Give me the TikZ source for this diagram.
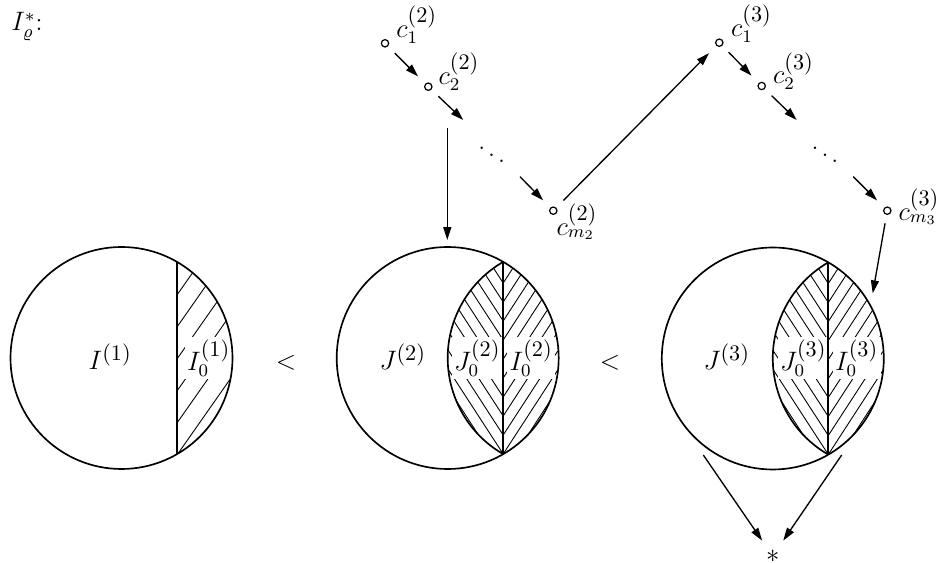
\documentclass[tikz,border=0pt]{standalone}
\usetikzlibrary{arrows.meta,calc}
\newcommand\pw[1]{^{\hbox{\fontsize{9.8}{11}\selectfont$(#1)$}}}
\begin{document}
\begin{tikzpicture}[x=0.45pt,y=-0.45pt,
  every node/.style={font=\fontsize{11.5}{13}\selectfont},
  outline/.style={line width=0.75pt},
  hatch/.style={line width=0.4pt},
  conn/.style={line width=0.6pt,-{Triangle[length=5.8pt,width=3.6pt]}},
  pt/.style={circle,draw,line width=0.55pt,inner sep=0pt,minimum size=3.3pt},
  lbl/.style={anchor=base west,inner sep=0pt},
  reg/.style={anchor=base west,inner sep=1pt,fill=white},
  rel/.style={inner sep=0pt}]
\useasboundingbox (0,0) rectangle (941,563);
\def\R{111}
% ---------- circle 1 ----------
\coordinate (C1) at (121.5,358);
\begin{scope}
  \clip (C1) circle (\R);
  \clip ($(C1)+(55.5,-120)$) rectangle ($(C1)+(125,120)$);
  \foreach \k in {-4,...,10} {
    \draw[hatch] ($(C1)+(55.5,97-32*\k)$) -- ++(57.4,-81.9);
  }
\end{scope}
\node[reg] (L1) at (86,370) {$I\pw{1}$};
\node[reg] (L10) at (184.5,371) {$I_0\pw{1}$};
\draw[outline] (C1) circle (\R);
\draw[outline] ($(C1)+(55.5,-96.1)$) -- ($(C1)+(55.5,96.1)$);
% ---------- circles 2 and 3 ----------
\coordinate (C2) at (447.7,358);
\coordinate (C3) at (772.8,358.5);
\foreach \c in {C2,C3} {
  \begin{scope}
    \clip (\c) circle (\R);
    \clip ($(\c)+(55.5,-120)$) rectangle ($(\c)+(125,120)$);
    \foreach \k in {-8,...,14} {
      \draw[hatch] ($(\c)+(55.5,96-19*\k)$) -- ++(54.5,-83.9);
    }
  \end{scope}
  \begin{scope}
    \clip ($(\c)+(\R,0)$) circle (\R);
    \clip ($(\c)+(-10,-120)$) rectangle ($(\c)+(55.5,120)$);
    \foreach \k in {-8,...,14} {
      \draw[hatch] ($(\c)+(55.5,96-19*\k)$) -- ++(-54.5,-83.9);
    }
  \end{scope}
}
\node[reg] (J2) at (377,370) {$J\pw{2}$};
\node[reg] (J02) at (451.5,371) {$J_0\pw{2}$};
\node[reg] (I02) at (507,371) {$I_0\pw{2}$};
\node[reg] (J3) at (701,370) {$J\pw{3}$};
\node[reg] (J03) at (777.5,371) {$J_0\pw{3}$};
\node[reg] (I03) at (832.5,371) {$I_0\pw{3}$};
\foreach \c in {C2,C3} {
  \draw[outline] (\c) circle (\R);
  \draw[outline] ($(\c)+(\R,0)+(120:\R)$) arc (120:240:\R);
  \draw[outline] ($(\c)+(55.5,-96.1)$) -- ($(\c)+(55.5,96.1)$);
}
\node[rel] (lt1) at (286,363) {$<$};
\node[rel] (lt2) at (610,363) {$<$};
% ---------- title ----------
\node[anchor=base west,inner sep=0pt] (title) at (11,31) {$I^*_\varrho$:};
% ---------- chains ----------
\node[pt] (c12) at (385,43.3) {};
\node[pt] (c22) at (428.3,86.7) {};
\node[rel] (d2) at (491.7,148.3) {$\ddots$};
\node[pt] (cm2) at (553.3,210.7) {};
\node[pt] (c13) at (719.3,42.7) {};
\node[pt] (c23) at (761.7,86) {};
\node[rel] (d3) at (825,148.3) {$\ddots$};
\node[pt] (cm3) at (887.3,210.7) {};
\node[lbl] (lc12) at ($(c12)+(11,-6)$) {$c_1\pw{2}$};
\node[lbl] (lc22) at ($(c22)+(10,-2)$) {$c_2\pw{2}$};
\node[lbl] (lcm2) at ($(cm2)+(3,24.5)$) {$c_{m_2}\pw{2}$};
\node[lbl] (lc13) at ($(c13)+(11.5,-6)$) {$c_1\pw{3}$};
\node[lbl] (lc23) at ($(c23)+(11,-2)$) {$c_2\pw{3}$};
\node[lbl] (lcm3) at ($(cm3)+(11,9.5)$) {$c_{m_3}\pw{3}$};
\coordinate (e2) at (463.3,120);
\coordinate (s2) at (520,176.7);
\coordinate (e3) at (796.7,120);
\coordinate (s3) at (853.3,176.7);
\coordinate (v1) at (447.3,128.3);
\coordinate (v2) at (447.3,240);
\coordinate (t3) at (872.7,293.3);
\coordinate (a1) at (703.3,455);
\coordinate (a2) at (841.7,455);
\node[rel] (star) at (772.7,556) {$*$};
\draw[conn,shorten <=4.3pt,shorten >=4.6pt] (c12) -- (c22);
\draw[conn,shorten <=4.3pt] (c22) -- (e2);
\draw[conn,shorten >=4.6pt] (s2) -- (cm2);
\draw[conn,shorten <=4.5pt,shorten >=4.7pt] (cm2) -- (c13);
\draw[conn,shorten <=4.1pt,shorten >=4.6pt] (c13) -- (c23);
\draw[conn,shorten <=4.3pt] (c23) -- (e3);
\draw[conn,shorten >=4.6pt] (s3) -- (cm3);
\draw[conn,shorten <=3.8pt] (cm3) -- (t3);
\draw[conn] (v1) -- (v2);
\draw[conn,shorten >=8.4pt] (a1) -- (star.center);
\draw[conn,shorten >=8.4pt] (a2) -- (star.center);
\end{tikzpicture}
\end{document}
